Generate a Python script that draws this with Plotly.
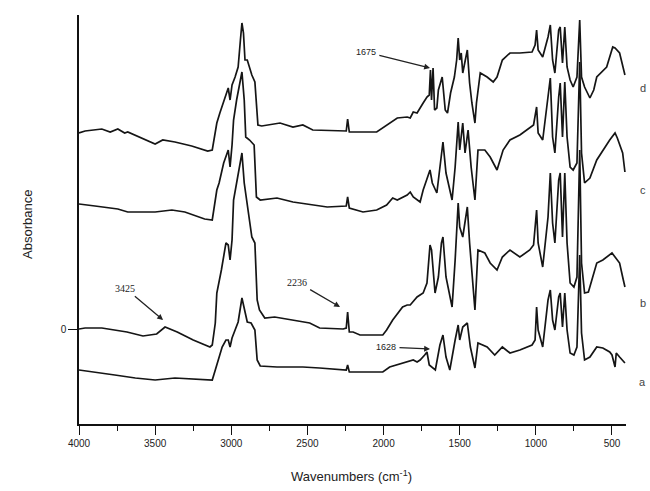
import plotly.graph_objects as go

# ---- data (absorbance, arbitrary offset units) ----
wn_a = [4000, 3895, 3765, 3630, 3500, 3370, 3260, 3140, 3125, 3105, 3085, 3060, 3035, 3020, 3008, 2995, 2975, 2955, 2930, 2915, 2895, 2870, 2845, 2830, 2810, 2700, 2530, 2420, 2265, 2245, 2236, 2225, 2045, 2005, 1960, 1875, 1805, 1780, 1760, 1730, 1715, 1700, 1660, 1630, 1610, 1590, 1565, 1530, 1510, 1500, 1480, 1450, 1430, 1400, 1380, 1320, 1270, 1220, 1170, 1105, 1025, 1005, 995, 985, 955, 920, 905, 890, 875, 850, 840, 825, 810, 795, 775, 750, 730, 712, 700, 680, 645, 600, 560, 515, 500, 480, 472, 450, 430, 415]
abs_a = [-0.41, -0.43, -0.46, -0.49, -0.51, -0.49, -0.50, -0.51, -0.51, -0.41, -0.31, -0.18, -0.11, -0.11, -0.18, -0.09, -0.01, 0.07, 0.31, 0.19, 0.07, 0.06, -0.01, -0.31, -0.37, -0.38, -0.38, -0.39, -0.41, -0.41, -0.36, -0.43, -0.43, -0.43, -0.38, -0.34, -0.31, -0.33, -0.31, -0.26, -0.23, -0.36, -0.41, -0.16, -0.06, -0.28, -0.41, -0.11, 0.04, -0.11, 0.02, 0.06, -0.18, -0.39, -0.14, -0.18, -0.26, -0.18, -0.24, -0.21, -0.16, -0.11, 0.22, -0.01, -0.18, 0.29, 0.39, 0.09, -0.01, 0.32, 0.36, 0.02, 0.36, -0.01, -0.24, -0.26, -0.18, 0.74, -0.04, -0.31, -0.28, -0.18, -0.19, -0.23, -0.26, -0.38, -0.24, -0.28, -0.31, -0.34]

wn_b = [4000, 3960, 3850, 3685, 3580, 3490, 3435, 3355, 3250, 3140, 3125, 3105, 3095, 3065, 3035, 3020, 3008, 2995, 2985, 2930, 2915, 2865, 2845, 2830, 2815, 2780, 2715, 2595, 2485, 2420, 2265, 2245, 2236, 2225, 2200, 2155, 2070, 2005, 1980, 1940, 1875, 1845, 1825, 1780, 1740, 1715, 1695, 1685, 1662, 1640, 1620, 1610, 1590, 1550, 1530, 1510, 1500, 1480, 1450, 1435, 1400, 1380, 1335, 1300, 1255, 1220, 1170, 1105, 1040, 1015, 995, 985, 955, 920, 905, 890, 875, 850, 840, 825, 810, 795, 775, 750, 730, 712, 700, 680, 655, 600, 560, 500, 480, 450, 430, 415]
abs_b = [0.00, 0.01, 0.01, -0.03, -0.07, -0.05, 0.02, -0.03, -0.11, -0.18, -0.16, 0.06, 0.36, 0.59, 0.86, 0.84, 0.69, 0.89, 1.29, 1.76, 1.46, 0.92, 0.86, 0.29, 0.19, 0.11, 0.12, 0.09, 0.06, 0.01, 0.00, 0.01, 0.17, -0.03, -0.03, -0.06, -0.06, -0.06, -0.01, 0.09, 0.22, 0.24, 0.24, 0.32, 0.36, 0.46, 0.84, 0.79, 0.36, 0.52, 0.86, 0.92, 0.52, 0.22, 0.69, 1.26, 1.02, 0.92, 1.22, 0.86, 0.19, 0.79, 0.76, 0.66, 0.59, 0.72, 0.79, 0.72, 0.79, 0.84, 1.19, 0.86, 0.62, 1.12, 1.56, 1.06, 0.86, 1.49, 1.56, 0.92, 1.56, 0.86, 0.46, 0.42, 0.52, 1.79, 0.66, 0.36, 0.37, 0.66, 0.69, 0.76, 0.72, 0.66, 0.52, 0.42]

wn_c = [4000, 3960, 3895, 3745, 3680, 3500, 3390, 3305, 3175, 3125, 3105, 3095, 3080, 3050, 3020, 3008, 2995, 2985, 2965, 2930, 2915, 2905, 2880, 2850, 2835, 2810, 2700, 2595, 2370, 2245, 2236, 2225, 2135, 2045, 1980, 1940, 1910, 1845, 1825, 1805, 1760, 1740, 1695, 1680, 1650, 1630, 1610, 1590, 1550, 1530, 1510, 1500, 1480, 1465, 1445, 1425, 1400, 1380, 1335, 1300, 1255, 1215, 1170, 1105, 1040, 1015, 995, 985, 955, 920, 905, 890, 875, 850, 840, 825, 810, 795, 775, 755, 730, 712, 700, 680, 645, 600, 560, 515, 480, 465, 430, 415]
abs_c = [1.25, 1.24, 1.23, 1.20, 1.17, 1.17, 1.19, 1.17, 1.10, 1.09, 1.29, 1.39, 1.46, 1.66, 1.79, 1.62, 1.84, 2.09, 2.29, 2.57, 2.29, 1.92, 1.89, 1.84, 1.32, 1.29, 1.31, 1.27, 1.22, 1.23, 1.32, 1.21, 1.17, 1.19, 1.24, 1.31, 1.29, 1.34, 1.37, 1.32, 1.27, 1.39, 1.59, 1.46, 1.36, 1.59, 1.87, 1.56, 1.29, 1.62, 2.07, 1.79, 2.06, 1.76, 1.99, 1.62, 1.29, 1.79, 1.79, 1.72, 1.59, 1.79, 1.89, 1.94, 2.01, 2.04, 2.22, 1.96, 1.89, 2.32, 2.51, 1.92, 1.76, 2.32, 2.46, 1.92, 2.47, 1.92, 1.62, 1.59, 1.66, 2.67, 1.76, 1.46, 1.51, 1.69, 1.79, 1.89, 1.96, 1.91, 1.76, 1.57]

wn_d = [4000, 3960, 3850, 3795, 3745, 3700, 3680, 3585, 3500, 3450, 3370, 3260, 3155, 3125, 3095, 3075, 3040, 3020, 3008, 2995, 2975, 2955, 2940, 2930, 2920, 2910, 2895, 2865, 2845, 2830, 2825, 2800, 2715, 2680, 2595, 2530, 2465, 2265, 2245, 2236, 2225, 2045, 1980, 1910, 1845, 1825, 1805, 1780, 1740, 1715, 1700, 1692, 1685, 1675, 1665, 1650, 1640, 1615, 1595, 1580, 1560, 1535, 1520, 1510, 1500, 1490, 1480, 1450, 1435, 1420, 1400, 1390, 1365, 1320, 1280, 1255, 1220, 1170, 1105, 1025, 1005, 995, 985, 955, 920, 905, 890, 875, 850, 840, 825, 810, 795, 775, 755, 730, 712, 700, 680, 645, 620, 600, 535, 495, 480, 450, 415]
abs_d = [1.96, 1.98, 2.00, 1.97, 2.00, 1.96, 1.97, 1.91, 1.85, 1.89, 1.87, 1.83, 1.78, 1.79, 2.06, 2.16, 2.32, 2.41, 2.29, 2.44, 2.52, 2.62, 2.89, 3.06, 2.96, 2.69, 2.69, 2.54, 2.47, 2.09, 2.04, 2.03, 2.05, 2.06, 2.02, 2.04, 1.99, 1.98, 1.98, 2.10, 1.97, 1.97, 2.04, 2.11, 2.12, 2.11, 2.17, 2.16, 2.26, 2.32, 2.34, 2.59, 2.29, 2.61, 2.19, 2.21, 2.39, 2.52, 2.19, 2.16, 2.36, 2.52, 2.69, 2.91, 2.69, 2.76, 2.56, 2.79, 2.46, 2.26, 2.06, 2.26, 2.56, 2.52, 2.47, 2.52, 2.69, 2.76, 2.76, 2.77, 2.84, 2.99, 2.79, 2.72, 2.92, 3.04, 2.69, 2.56, 2.99, 3.02, 2.66, 3.02, 2.62, 2.49, 2.42, 2.52, 3.09, 2.52, 2.42, 2.31, 2.39, 2.52, 2.62, 2.82, 2.81, 2.76, 2.54]

series = [("a", wn_a, abs_a), ("b", wn_b, abs_b), ("c", wn_c, abs_c), ("d", wn_d, abs_d)]
curve_labels = ["d", "c", "b", "a"]
curve_label_y = [2.41, 1.39, 0.26, -0.53]

x_tick_vals = [4000, 3500, 3000, 2500, 2000, 1500, 1000, 500]
x_tick_text = ["4000", "3500", "3000", "2500", "2000", "1500", "1000", "500"]
x_minor_vals = [3750, 3250, 2750, 2250, 1750, 1250, 750]

# peak annotations: text, text centre (wn, abs), arrow head (wn, abs)
peak_texts = ["3425", "2236", "1675", "1628"]
peak_text_pos = [(3698, 0.41), (2569, 0.47), (2116, 2.77), (1984, -0.18)]
peak_arrow_head = [(3448, 0.09), (2286, 0.22), (1695, 2.61), (1695, -0.20)]
peak_font = ["Liberation Serif, Times New Roman, serif",
             "Liberation Serif, Times New Roman, serif",
             "Arial, Liberation Sans, sans-serif",
             "Arial, Liberation Sans, sans-serif"]
peak_size = [10, 10, 9, 9]

FONT = "Arial, Liberation Sans, sans-serif"

fig = go.Figure()
for name, wn, ab in series:
    fig.add_trace(go.Scatter(x=wn, y=ab, mode="lines", name=name,
                             line=dict(color="#151515", width=1.7),
                             showlegend=False, hoverinfo="skip"))

ann = []
for t, (tx, ty), (hx, hy), pf, ps in zip(peak_texts, peak_text_pos,
                                         peak_arrow_head, peak_font, peak_size):
    ann.append(dict(x=hx, y=hy, ax=tx, ay=ty, xref="x", yref="y",
                    axref="x", ayref="y", text=t, showarrow=True,
                    arrowhead=2, arrowsize=0.9, arrowwidth=1.3,
                    arrowcolor="#222", standoff=0, startstandoff=2,
                    font=dict(family=pf, size=ps, color="#222")))
for lab, ly in zip(curve_labels, curve_label_y):
    ann.append(dict(x=1.031, y=ly, xref="paper", yref="y", text=lab,
                    xanchor="center", yanchor="middle",
                    showarrow=False, font=dict(family=FONT, size=11, color="#444")))
ann.append(dict(x=0.499, y=-0.127, xref="paper", yref="paper",
                xanchor="center", yanchor="middle",
                text="Wavenumbers (cm<sup>-1</sup>)", showarrow=False,
                font=dict(family=FONT, size=13, color="#222")))
ann.append(dict(x=-0.093, y=0.487, xref="paper", yref="paper",
                xanchor="center", yanchor="middle",
                text="Absorbance", textangle=-90, showarrow=False,
                font=dict(family=FONT, size=13, color="#222")))

fig.update_layout(
    width=650, height=491,
    margin=dict(l=79, r=24, t=15, b=67),
    paper_bgcolor="white", plot_bgcolor="white",
    annotations=ann,
    font=dict(family=FONT, size=10, color="#222"),
)
fig.update_xaxes(range=[4000, 408], showgrid=False, zeroline=False,
                 showline=True, linecolor="#111", linewidth=1.6,
                 tickmode="array", tickvals=x_tick_vals, ticktext=x_tick_text,
                 ticks="outside", ticklen=9, tickwidth=1.3, tickcolor="#111",
                 tickfont=dict(family=FONT, size=10, color="#222"),
                 minor=dict(tickmode="array", tickvals=x_minor_vals,
                            ticks="outside", ticklen=5, tickwidth=1.3,
                            tickcolor="#111", showgrid=False))
fig.update_yaxes(range=[-0.95, 3.14], showgrid=False, zeroline=False,
                 showline=True, linecolor="#111", linewidth=1.6,
                 tickmode="array", tickvals=[0], ticktext=["0"],
                 ticks="outside", ticklen=9, tickwidth=1.3, tickcolor="#111",
                 tickfont=dict(family=FONT, size=10, color="#222"))

fig.write_html("out.html", config={"displayModeBar": False},
               post_script="document.body.style.margin='0';"
                           "document.body.style.overflow='hidden';")
